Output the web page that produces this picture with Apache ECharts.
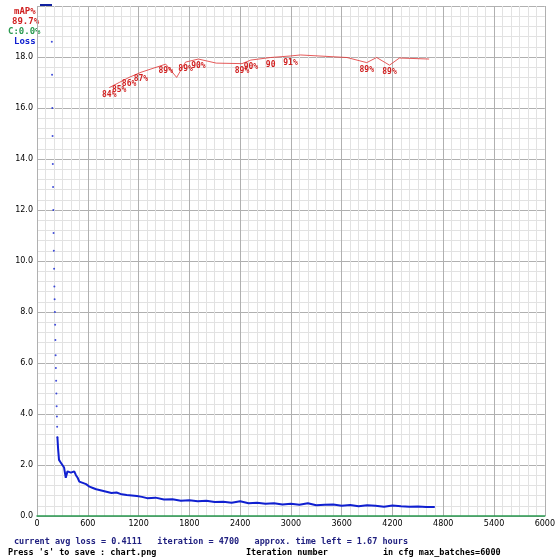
<!DOCTYPE html>
<html><head><meta charset="utf-8">
<script src="https://cdn.jsdelivr.net/npm/echarts@6/dist/echarts.min.js"></script>
<style>html,body{margin:0;padding:0;background:#fff}#c{width:558px;height:558px}</style>
</head><body><div id="c"></div>
<script>
const dotIter=[175,178,181,184,187,190,193,196,199,202,205,208,211,214,217,220,223,226,229,232,235,238,241];
const dotVal=[18.6,17.3,16.0,14.9,13.8,12.9,12.0,11.1,10.4,9.7,9.0,8.5,8.0,7.5,6.9,6.3,5.8,5.3,4.8,4.3,3.9,3.5,3.1];
const lossIter=[241,250,260,280,300,320,340,360,380,400,420,440,460,480,500,540,580,620,660,700,760,820,880,940,1000,1060,1120,1180,1240,1300,1400,1500,1600,1700,1800,1900,2000,2100,2200,2300,2400,2500,2600,2700,2800,2900,3000,3100,3200,3300,3400,3500,3600,3700,3800,3900,4000,4100,4200,4300,4400,4500,4600,4700];
const lossVal=[3.1,2.6,2.2,2.1,2.0,1.9,1.5,1.75,1.8,1.7,1.65,1.75,1.6,1.5,1.35,1.3,1.25,1.15,1.1,1.05,1.0,0.95,0.9,0.92,0.85,0.82,0.8,0.78,0.75,0.7,0.72,0.65,0.66,0.6,0.62,0.58,0.6,0.55,0.56,0.52,0.58,0.5,0.52,0.48,0.5,0.45,0.48,0.44,0.5,0.42,0.44,0.45,0.4,0.43,0.38,0.42,0.4,0.36,0.41,0.38,0.36,0.37,0.35,0.35];
const mapIter=[854,971,1088,1228,1521,1650,1755,1907,2118,2422,2527,2761,2995,3112,3662,3896,4013,4165,4282,4633];
const mapVal=[84,85,86,87,88.6,86,89,89.6,88.8,88.7,89.4,89.9,90.2,90.4,89.9,88.9,89.9,88.4,89.8,89.6];
const mapLabels=['84%','85%','86%','87%','89%','','89%','90%','','89%','90%','90','91%','','','89%','','89%','',''];
const xTicks=[0,600,1200,1800,2400,3000,3600,4200,4800,5400,6000];
const yTicks=[0,2,4,6,8,10,12,14,16,18];
const ch=echarts.init(document.getElementById('c'));
const F='DejaVu Sans Mono';
const TF='bold 9px '+F;
ch.setOption({
 animation:false,
 grid:{left:37,right:8,top:6,bottom:42},
 xAxis:{type:'value',min:0,max:6000,interval:600,
  axisLine:{lineStyle:{color:'#2a9a50',width:1.5}},axisTick:{show:false},
  axisLabel:{fontSize:8,color:'#000',fontFamily:'DejaVu Sans',margin:4,
   formatter:v=>xTicks.includes(v)?String(v):''},
  splitLine:{lineStyle:{color:'#b0b0b0'}},
  minorTick:{show:false,splitNumber:6},minorSplitLine:{show:true,lineStyle:{color:'#e2e2e2'}}},
 yAxis:{type:'value',min:0,max:20,interval:2,
  axisLine:{show:false},axisTick:{show:false},
  axisLabel:{fontSize:8,color:'#000',fontFamily:'DejaVu Sans',margin:4,
   formatter:v=>yTicks.includes(v)?v.toFixed(1):''},
  splitLine:{lineStyle:{color:'#b0b0b0'}},
  minorTick:{show:false,splitNumber:5},minorSplitLine:{show:true,lineStyle:{color:'#e2e2e2'}}},
 series:[
  {type:'scatter',data:dotIter.map((x,i)=>[x,dotVal[i]]),symbolSize:2,itemStyle:{color:'#1020d0'}},
  {type:'line',data:lossIter.map((x,i)=>[x,lossVal[i]]),symbol:'none',
   lineStyle:{color:'#1020d0',width:2}},
  {type:'line',data:mapIter.map((x,i)=>[x,mapVal[i]/5]),symbol:'circle',symbolSize:0,showAllSymbol:true,
   itemStyle:{color:'#e03030'},lineStyle:{color:'#e03030',width:0.8},
   label:{show:true,position:'bottom',distance:3,offset:[-7,0],fontSize:8,fontFamily:F,fontWeight:'bold',color:'#d02020',
    formatter:p=>mapLabels[p.dataIndex]},
   labelLayout:{hideOverlap:false}}
 ],
 graphic:[
  {type:'line',shape:{x1:40,y1:5,x2:52,y2:5},style:{stroke:'#1020a0',lineWidth:2}},
  {type:'text',left:14,top:7,style:{text:'mAP%',fill:'#d02020',font:TF}},
  {type:'text',left:12,top:17,style:{text:'89.7%',fill:'#d02020',font:TF}},
  {type:'text',left:8,top:27,style:{text:'C:0.0%',fill:'#2a9a50',font:TF}},
  {type:'text',left:14,top:37,style:{text:'Loss',fill:'#1020d0',font:TF}},
  {type:'text',left:14,top:537,style:{text:'current avg loss = 0.4111   iteration = 4700   approx. time left = 1.67 hours',fill:'#202080',font:'bold 8.5px '+F}},
  {type:'text',left:8,top:548,style:{text:'Press \'s\' to save : chart.png',fill:'#000',font:'bold 8.5px '+F}},
  {type:'text',left:246,top:548,style:{text:'Iteration number',fill:'#000',font:'bold 8.5px '+F}},
  {type:'text',left:383,top:548,style:{text:'in cfg max_batches=6000',fill:'#000',font:'bold 8.5px '+F}}
 ]
});
</script></body></html>
